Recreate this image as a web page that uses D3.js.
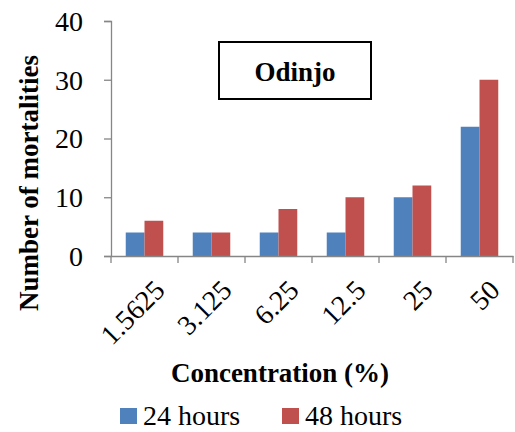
<!DOCTYPE html>
<html><head><meta charset="utf-8">
<script src="https://cdn.jsdelivr.net/npm/d3@7"></script>
</head><body style="margin:0">
<svg id="c" width="515" height="432"></svg>
<script>
const categories = ["1.5625","3.125","6.25","12.5","25","50"];
const series = ["24 hours","48 hours"];
const hours24 = [4,4,4,4,10,22];
const hours48 = [6,4,8,10,12,30];
const yTicks = [0,10,20,30,40];
const colors = ["#4F81BD","#C0504D"];
const FONT = "Tinos, 'Liberation Serif', 'Times New Roman', serif";

const svg = d3.select("#c");
const x0 = d3.scaleBand().domain(categories).range([111,513]).paddingInner(0.44).paddingOuter(0.22);
const xBand = d3.scaleBand().domain(categories).range([111,513]);
const x1 = d3.scaleBand().domain(series).range([0,x0.bandwidth()]);
const y = d3.scaleLinear().domain([0,40]).range([256,21]);

const data = categories.map((c,i)=>({c, v:[hours24[i],hours48[i]]}));

const g = svg.append("g");
g.selectAll("g.cat").data(data).join("g").attr("class","cat")
  .attr("transform",d=>`translate(${x0(d.c)},0)`)
  .selectAll("rect").data(d=>d.v.map((v,j)=>({s:series[j],v,j}))).join("rect")
  .attr("x",d=>x1(d.s)).attr("width",x1.bandwidth())
  .attr("y",d=>y(d.v)).attr("height",d=>y(0)-y(d.v))
  .attr("fill",d=>colors[d.j]);

// y axis
const yAxis = g.append("g").attr("transform","translate(111,0)")
  .call(d3.axisLeft(y).tickValues(yTicks).tickSize(7).tickPadding(21));
yAxis.attr("font-family",FONT).attr("font-size",28);
yAxis.selectAll("line,path").attr("stroke","#868686").attr("stroke-width",1.3);
yAxis.selectAll("text").style("font-family",FONT).style("font-size","28px")
  .attr("fill","#000").attr("dy","0.33em");

// x axis
const xAxis = g.append("g").attr("transform","translate(0,256)")
  .call(d3.axisBottom(xBand).tickSize(0).tickFormat(""));
xAxis.select("path").attr("stroke","#868686").attr("stroke-width",1.3);
const tickPos = d3.range(categories.length+1).map(i=>111+i*xBand.step());
g.selectAll("line.xt").data(tickPos).join("line").attr("class","xt")
  .attr("x1",d=>d).attr("x2",d=>d).attr("y1",256).attr("y2",263)
  .attr("stroke","#868686").attr("stroke-width",1.3);
g.selectAll("text.xl").data(categories).join("text").attr("class","xl")
  .attr("transform",d=>`translate(${xBand(d)+xBand.bandwidth()/2+8},278) rotate(-45)`)
  .attr("text-anchor","end").attr("dy","0.7em")
  .style("font-family",FONT).style("font-size","28px").text(d=>d);

// y title
svg.append("text").attr("transform","translate(38,183) rotate(-90)")
  .attr("text-anchor","middle").style("font-family",FONT).style("font-size","27px").style("font-weight","bold")
  .text("Number of mortalities");

// x title
svg.append("text").attr("x",280).attr("y",382).attr("text-anchor","middle")
  .style("font-family",FONT).style("font-size","27px").style("font-weight","bold").text("Concentration (%)");

// title box
svg.append("rect").attr("x",219).attr("y",42).attr("width",152).attr("height",57)
  .attr("fill","#fff").attr("stroke","#000").attr("stroke-width",2);
svg.append("text").attr("x",295).attr("y",81).attr("text-anchor","middle")
  .style("font-family",FONT).style("font-size","27px").style("font-weight","bold").text("Odinjo");

// legend
const legX = [120,282];
const lg = svg.selectAll("g.leg").data(series).join("g").attr("class","leg")
  .attr("transform",(d,i)=>`translate(${legX[i]},0)`);
lg.append("rect").attr("x",0).attr("y",408).attr("width",17).attr("height",16).attr("fill",(d,i)=>colors[i]);
lg.append("text").attr("x",23).attr("y",425).style("font-family",FONT).style("font-size","28px").text(d=>d);
</script>
</body></html>
